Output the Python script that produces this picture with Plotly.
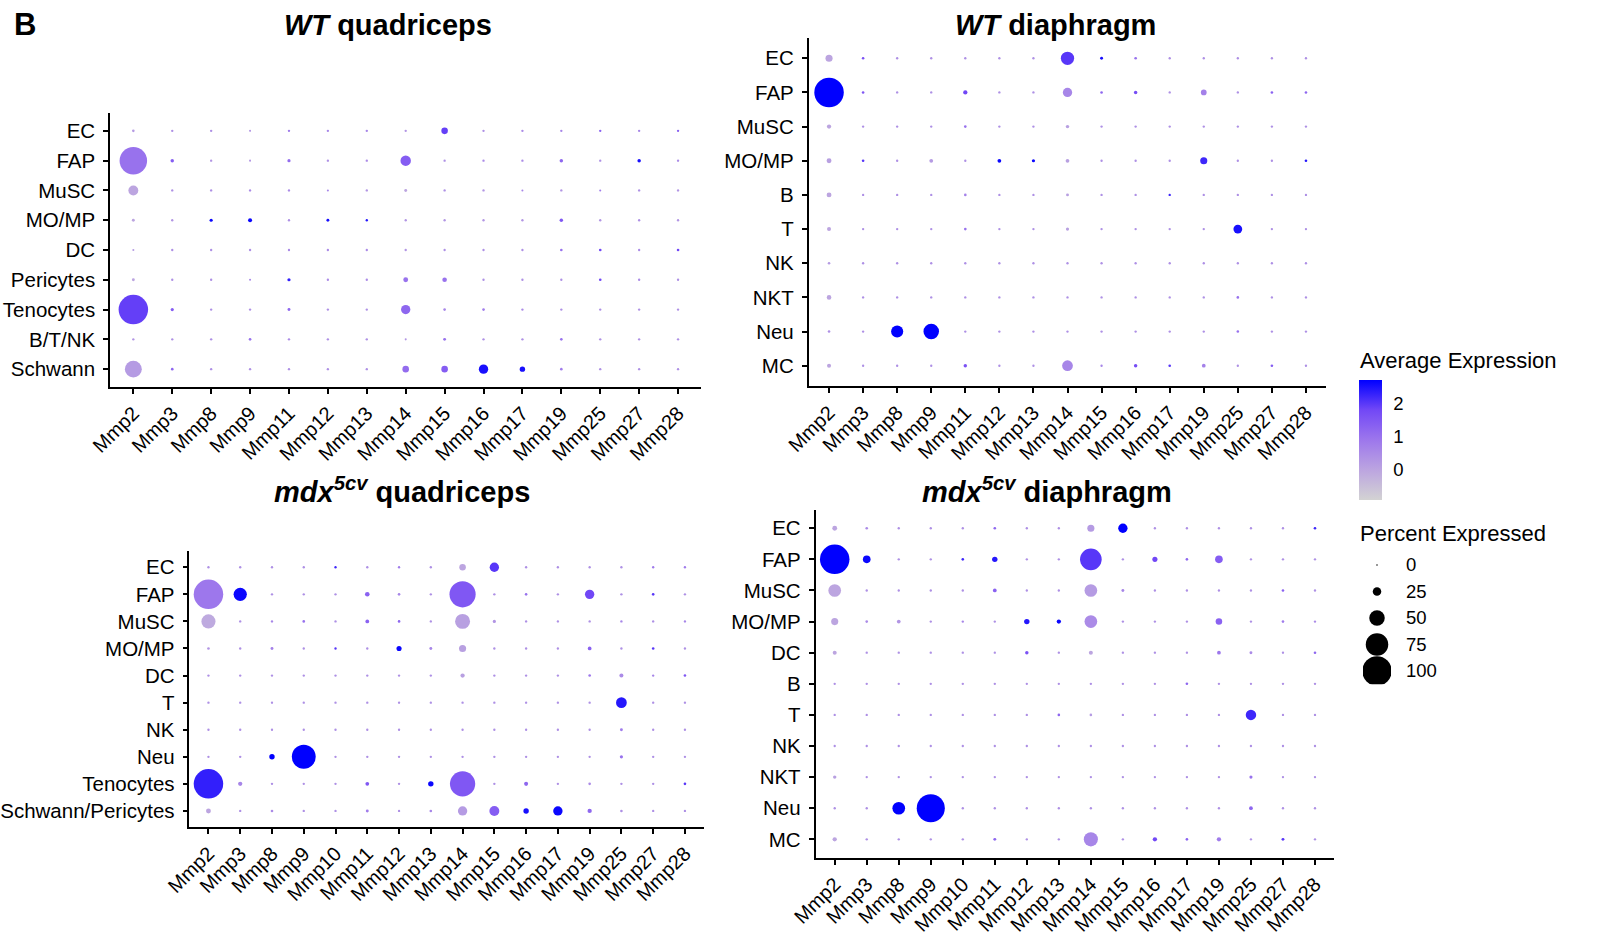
import plotly.graph_objects as go

# ---------------- data ----------------
genes_a = ["Mmp2", "Mmp3", "Mmp8", "Mmp9", "Mmp11", "Mmp12", "Mmp13", "Mmp14",
           "Mmp15", "Mmp16", "Mmp17", "Mmp19", "Mmp25", "Mmp27", "Mmp28"]
genes_b = ["Mmp2", "Mmp3", "Mmp8", "Mmp9", "Mmp10", "Mmp11", "Mmp12", "Mmp13", "Mmp14",
           "Mmp15", "Mmp16", "Mmp17", "Mmp19", "Mmp25", "Mmp27", "Mmp28"]

# WT quadriceps
wtq_cells = ["EC", "FAP", "MuSC", "MO/MP", "DC", "Pericytes", "Tenocytes", "B/T/NK", "Schwann"]
wtq_pct = [
    [4, 3, 3, 2, 3, 3, 3, 3, 18, 3, 3, 3, 3, 3, 3],
    [93, 7, 3, 2, 6, 3, 3, 32, 3, 3, 3, 7, 3, 7, 3],
    [30, 3, 3, 3, 3, 2, 3, 5, 3, 3, 2, 3, 2, 3, 3],
    [5, 3, 6, 9, 3, 5, 3, 3, 3, 3, 3, 7, 3, 3, 3],
    [2, 3, 3, 3, 3, 3, 3, 3, 3, 3, 3, 4, 4, 3, 4],
    [5, 3, 3, 2, 6, 3, 3, 12, 11, 3, 3, 3, 4, 3, 3],
    [100, 6, 3, 3, 5, 3, 3, 28, 4, 4, 3, 3, 3, 3, 3],
    [3, 3, 3, 4, 3, 3, 3, 2, 5, 3, 3, 4, 3, 3, 3],
    [55, 4, 3, 3, 3, 3, 3, 18, 18, 28, 14, 4, 3, 3, 3],
]
wtq_expr = [
    [0.2, 0.4, 0.4, 0.3, 0.8, 0.6, 0.6, 0.3, 1.9, 0.4, 0.5, 0.6, 1.3, 0.6, 1.3],
    [1.0, 1.4, 0.3, 0.3, 1.1, 0.4, 0.5, 1.4, 0.4, 0.5, 0.5, 1.2, 0.4, 2.5, 0.5],
    [0.0, 0.4, 0.4, 0.5, 0.5, 0.6, 0.3, 0.0, 0.4, 0.3, 0.6, 0.3, 0.8, 0.4, 0.3],
    [0.0, 0.3, 2.6, 2.6, 0.4, 2.5, 2.4, 0.3, 0.3, 0.3, 0.3, 1.5, 0.3, 0.4, 0.3],
    [0.2, 0.4, 0.4, 0.4, 0.5, 0.5, 0.5, 0.3, 0.4, 0.4, 0.4, 1.0, 1.8, 0.5, 1.8],
    [0.0, 0.4, 0.4, 0.6, 2.3, 0.5, 0.5, 1.0, 1.0, 0.4, 0.4, 0.4, 1.8, 0.5, 0.4],
    [1.9, 1.4, 0.4, 0.4, 1.2, 0.4, 0.4, 1.2, 0.6, 0.8, 0.5, 0.4, 0.4, 0.4, 0.4],
    [0.3, 0.4, 0.4, 1.0, 0.5, 0.4, 0.4, 0.3, 1.0, 0.4, 0.4, 1.0, 0.4, 0.4, 0.4],
    [0.2, 1.2, 0.4, 0.4, 0.4, 0.4, 0.4, 1.1, 1.4, 2.5, 2.5, 0.8, 0.4, 0.4, 0.4],
]

# WT diaphragm
wtd_cells = ["EC", "FAP", "MuSC", "MO/MP", "B", "T", "NK", "NKT", "Neu", "MC"]
wtd_pct = [
    [20, 4, 3, 3, 3, 3, 3, 42, 5, 4, 3, 3, 3, 3, 3],
    [100, 4, 3, 3, 10, 3, 3, 28, 4, 7, 3, 15, 3, 4, 4],
    [10, 3, 3, 3, 4, 3, 3, 7, 3, 3, 3, 3, 3, 3, 3],
    [12, 4, 3, 8, 3, 8, 6, 8, 3, 3, 3, 20, 3, 3, 4],
    [12, 3, 3, 3, 4, 3, 3, 5, 3, 3, 3, 3, 3, 3, 3],
    [9, 3, 3, 3, 4, 3, 3, 6, 3, 3, 3, 3, 26, 3, 3],
    [4, 3, 3, 3, 3, 3, 3, 3, 3, 3, 3, 3, 3, 3, 3],
    [11, 3, 3, 3, 3, 3, 3, 3, 3, 3, 3, 3, 4, 3, 3],
    [4, 3, 38, 50, 3, 3, 3, 3, 3, 3, 3, 3, 4, 3, 3],
    [9, 3, 3, 3, 7, 3, 3, 33, 3, 7, 4, 8, 3, 4, 3],
]
wtd_expr = [
    [0.0, 1.6, 0.4, 0.4, 0.4, 0.4, 0.4, 2.0, 2.5, 1.0, 0.4, 0.4, 0.4, 0.4, 0.4],
    [2.7, 1.5, 0.4, 0.4, 1.8, 0.4, 0.4, 0.6, 1.2, 1.7, 0.4, 0.7, 0.4, 1.3, 1.2],
    [0.0, 0.4, 0.4, 0.4, 1.0, 0.4, 0.4, 0.1, 0.4, 0.4, 0.4, 0.4, 0.4, 0.4, 0.4],
    [0.1, 2.0, 0.4, 0.2, 0.4, 2.6, 2.6, 0.1, 0.4, 0.4, 0.4, 2.2, 0.4, 0.4, 2.4],
    [0.0, 0.4, 0.4, 0.4, 0.7, 0.4, 0.4, 0.1, 0.4, 0.4, 2.2, 0.4, 0.4, 0.4, 0.4],
    [0.0, 0.4, 0.4, 0.4, 1.0, 0.4, 0.4, 0.1, 0.4, 0.4, 0.4, 0.4, 2.5, 0.4, 0.4],
    [0.2, 0.4, 0.4, 0.4, 0.4, 0.4, 0.4, 0.4, 0.4, 0.4, 0.4, 0.4, 0.4, 0.4, 0.4],
    [0.0, 0.4, 0.4, 0.4, 0.4, 0.4, 0.4, 0.4, 0.4, 0.4, 0.4, 0.4, 1.0, 0.4, 0.4],
    [0.4, 0.4, 2.7, 2.7, 0.4, 0.4, 0.4, 0.4, 0.4, 0.4, 0.4, 0.4, 1.0, 0.4, 0.4],
    [0.0, 0.4, 0.4, 0.4, 1.6, 0.4, 0.4, 0.6, 0.6, 1.7, 2.0, 0.7, 0.4, 1.4, 0.4],
]

# mdx5cv quadriceps
mdq_cells = ["EC", "FAP", "MuSC", "MO/MP", "DC", "T", "NK", "Neu", "Tenocytes", "Schwann/Pericytes"]
mdq_pct = [
    [3, 3, 3, 3, 3, 3, 3, 3, 18, 28, 3, 3, 3, 3, 3, 3],
    [100, 42, 3, 3, 3, 11, 4, 3, 88, 3, 4, 3, 28, 3, 4, 3],
    [45, 3, 3, 4, 3, 8, 4, 3, 48, 6, 3, 3, 3, 3, 3, 3],
    [4, 3, 5, 3, 3, 3, 13, 5, 20, 3, 3, 3, 8, 3, 4, 3],
    [3, 3, 3, 3, 3, 3, 3, 3, 10, 3, 3, 3, 4, 9, 3, 4],
    [3, 3, 3, 3, 3, 3, 3, 3, 3, 3, 3, 3, 3, 33, 3, 3],
    [3, 3, 3, 3, 3, 3, 3, 3, 3, 3, 3, 3, 3, 5, 3, 3],
    [3, 3, 14, 80, 3, 3, 3, 3, 3, 3, 3, 3, 3, 6, 3, 3],
    [100, 10, 3, 3, 3, 8, 3, 14, 85, 3, 9, 3, 4, 3, 3, 4],
    [12, 3, 4, 3, 3, 5, 3, 4, 28, 30, 14, 28, 10, 4, 3, 3],
]
mdq_expr = [
    [0.4, 0.4, 0.4, 0.4, 2.2, 0.4, 0.8, 0.4, 0.0, 2.0, 0.4, 0.4, 0.4, 0.4, 0.8, 0.8],
    [0.9, 2.6, 0.4, 0.4, 0.4, 1.3, 0.6, 0.4, 1.5, 0.4, 1.0, 0.4, 1.8, 0.4, 2.0, 0.4],
    [-0.1, 0.4, 0.6, 1.0, 0.4, 1.3, 1.2, 0.4, 0.1, 0.3, 0.4, 0.4, 0.4, 0.6, 0.4, 0.6],
    [0.3, 0.4, 0.7, 0.4, 2.0, 0.4, 2.6, 0.6, 0.1, 0.4, 0.4, 0.4, 1.3, 0.4, 2.0, 0.4],
    [0.4, 0.4, 0.4, 0.4, 0.4, 0.4, 0.4, 0.4, 0.1, 0.4, 0.4, 0.4, 0.9, 0.5, 0.6, 1.5],
    [0.4, 0.4, 0.4, 0.4, 0.4, 0.4, 0.4, 0.4, 0.4, 0.4, 0.4, 0.4, 0.4, 2.4, 0.4, 0.4],
    [0.4, 0.4, 0.4, 0.4, 0.4, 0.4, 0.4, 0.4, 0.4, 0.4, 0.4, 0.4, 0.4, 0.8, 0.4, 0.4],
    [0.4, 0.4, 2.7, 2.7, 0.4, 0.4, 0.4, 0.4, 0.4, 0.4, 0.4, 0.4, 0.4, 1.0, 0.4, 0.4],
    [2.3, 0.6, 0.4, 0.4, 0.4, 1.5, 0.4, 2.6, 1.5, 0.4, 1.2, 0.4, 0.5, 0.4, 0.4, 2.0],
    [0.0, 0.4, 0.5, 0.4, 0.4, 0.8, 0.4, 0.6, 0.2, 1.4, 2.5, 2.6, 1.2, 0.4, 0.4, 0.4],
]

# mdx5cv diaphragm
mdd_cells = ["EC", "FAP", "MuSC", "MO/MP", "DC", "B", "T", "NK", "NKT", "Neu", "MC"]
mdd_pct = [
    [12, 4, 3, 3, 3, 4, 3, 3, 20, 28, 3, 3, 3, 3, 3, 4],
    [100, 22, 3, 3, 4, 14, 3, 3, 72, 3, 13, 4, 22, 3, 3, 3],
    [40, 3, 3, 3, 3, 8, 3, 3, 40, 5, 3, 3, 3, 3, 4, 3],
    [20, 4, 8, 3, 3, 3, 14, 10, 40, 3, 3, 3, 18, 3, 4, 3],
    [9, 3, 3, 3, 3, 3, 7, 3, 9, 3, 3, 3, 8, 5, 3, 4],
    [3, 3, 3, 3, 3, 3, 3, 3, 3, 3, 3, 4, 3, 3, 3, 3],
    [3, 3, 3, 3, 3, 3, 3, 4, 4, 3, 3, 3, 3, 32, 3, 3],
    [3, 3, 3, 3, 3, 3, 3, 3, 3, 3, 3, 3, 3, 3, 3, 3],
    [7, 3, 3, 3, 3, 3, 3, 3, 3, 3, 3, 3, 3, 6, 3, 3],
    [3, 3, 40, 95, 3, 3, 3, 3, 3, 3, 3, 3, 3, 8, 3, 3],
    [10, 3, 3, 3, 3, 5, 3, 3, 45, 3, 10, 4, 10, 3, 5, 3],
]
mdd_expr = [
    [0.0, 0.5, 0.4, 0.4, 0.4, 1.2, 0.4, 0.4, 0.2, 2.7, 0.4, 0.4, 0.4, 0.4, 0.4, 2.2],
    [2.7, 2.6, 0.4, 0.4, 2.2, 2.4, 0.4, 0.4, 2.0, 0.4, 1.8, 1.2, 1.4, 0.4, 0.4, 0.4],
    [0.0, 0.4, 0.4, 0.4, 0.4, 1.3, 0.4, 0.4, 0.2, 0.6, 0.4, 0.4, 0.4, 0.4, 1.3, 0.4],
    [0.0, 0.5, 0.3, 0.4, 0.6, 0.4, 2.4, 2.6, 0.5, 0.4, 0.4, 0.4, 1.3, 0.4, 0.8, 0.5],
    [0.0, 0.4, 0.4, 0.4, 0.4, 0.4, 1.6, 0.4, 0.0, 0.4, 0.4, 0.4, 0.9, 0.5, 0.4, 1.2],
    [0.4, 0.4, 0.4, 0.4, 0.4, 0.4, 0.4, 0.4, 0.4, 0.4, 0.4, 1.2, 0.4, 0.4, 0.4, 0.4],
    [0.4, 0.4, 0.4, 0.4, 0.4, 0.4, 0.4, 1.2, 0.2, 0.4, 0.4, 0.4, 0.4, 2.2, 0.4, 0.4],
    [0.4, 0.4, 0.4, 0.4, 0.4, 0.4, 0.4, 0.4, 0.4, 0.4, 0.4, 0.4, 0.4, 0.4, 0.4, 0.4],
    [0.1, 0.4, 0.4, 0.4, 0.4, 0.4, 0.4, 0.4, 0.4, 0.4, 0.4, 0.4, 0.4, 1.0, 0.4, 0.4],
    [0.4, 0.4, 2.7, 2.7, 0.4, 0.4, 0.4, 0.4, 0.4, 0.4, 0.4, 0.4, 0.4, 1.2, 0.4, 0.4],
    [0.0, 0.4, 0.4, 0.4, 0.4, 1.2, 0.4, 0.4, 0.6, 0.4, 1.8, 1.3, 0.8, 0.4, 2.0, 0.4],
]

legend_pct = [0, 25, 50, 75, 100]
legend_labels = ["0", "25", "50", "75", "100"]
color_ticks = [0, 1, 2]

# ---------------- figure ----------------
W, H = 1599, 942
FONT = "Arial, Liberation Sans, sans-serif"


def dot_size(p):
    return 1.5 + 0.28 * p


def px_x(v):
    return v / W


def px_y(v):
    return 1 - v / H


panels = [
    ("", wtq_cells, genes_a, wtq_pct, wtq_expr, (110, 701.4), (113, 387)),
    ("2", wtd_cells, genes_a, wtd_pct, wtd_expr, (808.6, 1326.4), (37.8, 386.2)),
    ("3", mdq_cells, genes_b, mdq_pct, mdq_expr, (189.4, 704), (551, 827.2)),
    ("4", mdd_cells, genes_b, mdd_pct, mdd_expr, (815.5, 1334.2), (509.6, 858)),
]

fig = go.Figure()
layout_axes = {}
for suffix, cells, genes, pct, expr, (xl, xr), (yt, yb) in panels:
    xs, ys, ss, cs = [], [], [], []
    for i, cell in enumerate(cells):
        for j, g in enumerate(genes):
            xs.append(g)
            ys.append(cell)
            ss.append(dot_size(pct[i][j]))
            cs.append(expr[i][j])
    fig.add_trace(go.Scatter(
        x=xs, y=ys, mode="markers",
        xaxis="x" + suffix, yaxis="y" + suffix,
        marker=dict(size=ss, color=cs, coloraxis="coloraxis", line=dict(width=0), opacity=1),
        showlegend=False, hoverinfo="skip",
    ))
    common = dict(showline=True, linecolor="black", linewidth=1.5, ticks="outside",
                  ticklen=5, tickwidth=1.5, tickcolor="black", showgrid=False,
                  zeroline=False, type="category", automargin=False)
    layout_axes["xaxis" + suffix] = dict(
        common, domain=[px_x(xl), px_x(xr)], anchor="y" + suffix,
        categoryorder="array", categoryarray=genes,
        range=[-0.6, len(genes) - 0.4], tickangle=-45,
        tickfont=dict(family=FONT, size=20, color="black"))
    layout_axes["yaxis" + suffix] = dict(
        common, domain=[px_y(yb), px_y(yt)], anchor="x" + suffix,
        categoryorder="array", categoryarray=cells,
        range=[len(cells) - 0.4, -0.6], ticklabelstandoff=4,
        tickfont=dict(family=FONT, size=20.5, color="black"))

# size legend
fig.add_trace(go.Scatter(
    x=[0] * len(legend_pct), y=legend_labels, mode="markers",
    xaxis="x5", yaxis="y5",
    marker=dict(size=[dot_size(p) for p in legend_pct], color="#000000", opacity=1,
                line=dict(width=0)),
    showlegend=False, hoverinfo="skip",
))
layout_axes["xaxis5"] = dict(domain=[px_x(1363), px_x(1391)], anchor="y5", range=[-0.5, 0.5],
                             visible=False, automargin=False)
layout_axes["yaxis5"] = dict(domain=[px_y(684.25), px_y(551.75)], anchor="x5", side="right",
                             type="category", categoryorder="array", categoryarray=legend_labels,
                             range=[4.5, -0.5], showline=False, showgrid=False, zeroline=False,
                             ticks="", ticklabelstandoff=14, automargin=False,
                             tickfont=dict(family=FONT, size=18.5, color="black"))

colorscale = [[0.0, "#D3D3D3"], [0.25, "#BCA5E0"], [0.5, "#9D77EC"],
              [0.75, "#7248F6"], [1.0, "#0000FF"]]

annotations = [
    dict(text="<b>B</b>", x=px_x(25), y=px_y(25), font=dict(size=31)),
    dict(text="<b><i>WT</i> quadriceps</b>", x=px_x(388), y=px_y(25), font=dict(size=29)),
    dict(text="<b><i>WT</i> diaphragm</b>", x=px_x(1055), y=px_y(25), font=dict(size=29)),
    dict(text="<b><i>mdx<sup>5cv</sup></i> quadriceps</b>", x=px_x(402), y=px_y(490), font=dict(size=29)),
    dict(text="<b><i>mdx<sup>5cv</sup></i> diaphragm</b>", x=px_x(1047), y=px_y(490), font=dict(size=29)),
    dict(text="Average Expression", x=px_x(1358), y=px_y(360), xanchor="left", font=dict(size=22)),
    dict(text="Percent Expressed", x=px_x(1358), y=px_y(533), xanchor="left", font=dict(size=22)),
]
for a in annotations:
    a.setdefault("xanchor", "center")
    a.update(xref="paper", yref="paper", yanchor="middle", showarrow=False)
    a["font"].update(family=FONT, color="black")

fig.update_layout(
    width=W, height=H, margin=dict(l=0, r=0, t=0, b=0, autoexpand=False),
    paper_bgcolor="white", plot_bgcolor="white",
    font=dict(family=FONT, color="black"),
    coloraxis=dict(
        colorscale=colorscale, cmin=-0.9, cmax=2.69,
        colorbar=dict(x=px_x(1359), xanchor="left", xpad=0, y=px_y(440), yanchor="middle",
                      ypad=0, len=120, lenmode="pixels", thickness=23, thicknessmode="pixels",
                      outlinewidth=0, tickvals=color_ticks, ticks="outside", ticklen=8,
                      tickcolor="rgba(0,0,0,0)",
                      tickfont=dict(family=FONT, size=18.5, color="black")),
    ),
    annotations=annotations,
    **layout_axes,
)

fig.write_html("out.html", config={"displayModeBar": False},
               post_script="document.body.style.margin='0';document.body.style.overflow='hidden';")
